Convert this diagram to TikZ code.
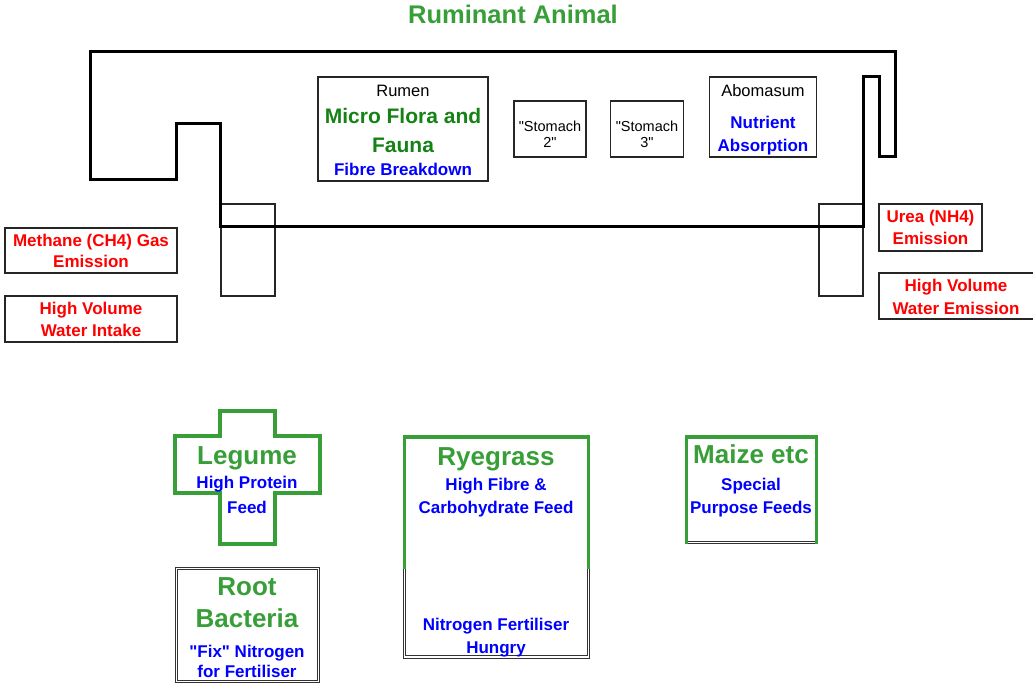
\documentclass[tikz,border=0pt]{standalone}
\usepackage{fontspec}
\setmainfont{Liberation Sans}[Ligatures=TeXOff]
\definecolor{tgreen}{RGB}{56,158,56}
\definecolor{dgreen}{RGB}{20,130,20}
\definecolor{tblue}{RGB}{0,0,255}
\definecolor{tred}{RGB}{255,0,0}
\newcommand\fsz[1]{\fontsize{#1}{#1}\selectfont}
\tikzset{
  outline/.style={line width=3pt, line join=miter},
  box/.style={draw=black!85, line width=1.3pt, inner sep=0pt, outer sep=0pt},
  dbox/.style={draw=black!80, double=white, line width=1pt, double distance=1.5pt, inner sep=0pt, outer sep=0pt},
  gline/.style={draw=tgreen, line width=3.5pt, line join=miter},
  t/.style={inner sep=0pt, anchor=base},
  bluet/.style={t, text=tblue, font=\fsz{17}\bfseries},
  redt/.style={t, text=tred, font=\fsz{17}\bfseries},
  bigg/.style={t, text=tgreen, font=\fsz{26}\bfseries},
  plain/.style={t, text=black},
}
\begin{document}
\begin{tikzpicture}[x=1pt,y=-1pt]
\useasboundingbox (0,0) rectangle (1033,684);
% title
\node[t, text=tgreen, font=\fsz{25.5}\bfseries] (title) at (513,24) {Ruminant Animal};
% thin overlap boxes
\node[box, minimum width=54, minimum height=92] (lin) at (248,250) {};
\node[box, minimum width=44, minimum height=92] (rout) at (841,250) {};
% animal outline
\draw[outline] (90,52) -- (895,52) -- (895,157) -- (879,157) -- (879,77) -- (863,77)
  -- (863,227) -- (220,227) -- (220,124) -- (176,124) -- (176,180) -- (90,180) -- cycle;
% rumen
\node[box, minimum width=170, minimum height=104] (rumen) at (403,129) {};
\node[plain, font=\fsz{16.5}] at (403,97) {Rumen};
\node[t, text=dgreen, font=\fsz{21}\bfseries] at (403,124) {Micro Flora and};
\node[t, text=dgreen, font=\fsz{21}\bfseries] at (403,153) {Fauna};
\node[bluet] at (403,176) {Fibre Breakdown};
% stomach 2 and 3
\node[box, minimum width=72, minimum height=56] (st2) at (550,129) {};
\node[plain, font=\fsz{14.5}] at (550,132) {"Stomach};
\node[plain, font=\fsz{14.5}] at (550,148) {2"};
\node[box, minimum width=73, minimum height=56] (st3) at (647,129) {};
\node[plain, font=\fsz{14.5}] at (647,132) {"Stomach};
\node[plain, font=\fsz{14.5}] at (647,148) {3"};
% abomasum
\node[box, minimum width=107, minimum height=80] (abo) at (763,117) {};
\node[plain, font=\fsz{16.5}] at (763,97) {Abomasum};
\node[bluet] at (763,129) {Nutrient};
\node[bluet] at (763,152) {Absorption};
% red boxes left
\node[box, minimum width=172, minimum height=45] (meth) at (91,250.5) {};
\node[redt] at (91,247) {Methane (CH4) Gas};
\node[redt] at (91,268) {Emission};
\node[box, minimum width=172, minimum height=46] (win) at (91,319) {};
\node[redt] at (91,315) {High Volume};
\node[redt] at (91,337) {Water Intake};
% red boxes right
\node[box, minimum width=103, minimum height=47] (urea) at (930.5,227.5) {};
\node[redt] at (930.5,223) {Urea (NH4)};
\node[redt] at (930.5,245) {Emission};
\node[box, minimum width=156, minimum height=46] (wem) at (957,296) {};
\node[redt] at (956,292) {High Volume};
\node[redt] at (956,315) {Water Emission};
% legume cross
\draw[gline]
  (220,411) -- (275,411) -- (275,436) -- (320,436) -- (320,493) -- (275,493)
  -- (275,544) -- (220,544) -- (220,493) -- (175,493) -- (175,436) -- (220,436) -- cycle;
\node[bigg] at (247,464) {Legume};
\node[bluet] at (247,488) {High Protein};
\node[bluet] at (247,513) {Feed};
% root bacteria
\node[dbox, minimum width=142, minimum height=113] (root) at (247.5,625) {};
\node[bigg] at (247,595) {Root};
\node[bigg] at (247,627) {Bacteria};
\node[bluet] at (247,657) {"Fix" Nitrogen};
\node[bluet] at (247,677) {for Fertiliser};
% ryegrass
\node[dbox, minimum width=184, minimum height=220] (rye) at (496.5,547) {};
\draw[gline] (rye.west |- 0,569) -- (rye.west |- 0,437) -- (rye.east |- 0,437) -- (rye.east |- 0,569);
\node[bigg] at (496,465) {Ryegrass};
\node[bluet] at (496,490) {High Fibre \&};
\node[bluet] at (496,513) {Carbohydrate Feed};
\node[bluet] at (496,630) {Nitrogen Fertiliser};
\node[bluet] at (496,653) {Hungry};
% maize
\node[dbox, minimum width=130, minimum height=105] (mai) at (751.5,490) {};
\draw[gline] (mai.west |- 0,544) -- (mai.west |- 0,437) -- (mai.east |- 0,437) -- (mai.east |- 0,544);
\node[bigg] at (751,463) {Maize etc};
\node[bluet] at (751,490) {Special};
\node[bluet] at (751,513) {Purpose Feeds};
\end{tikzpicture}
\end{document}
